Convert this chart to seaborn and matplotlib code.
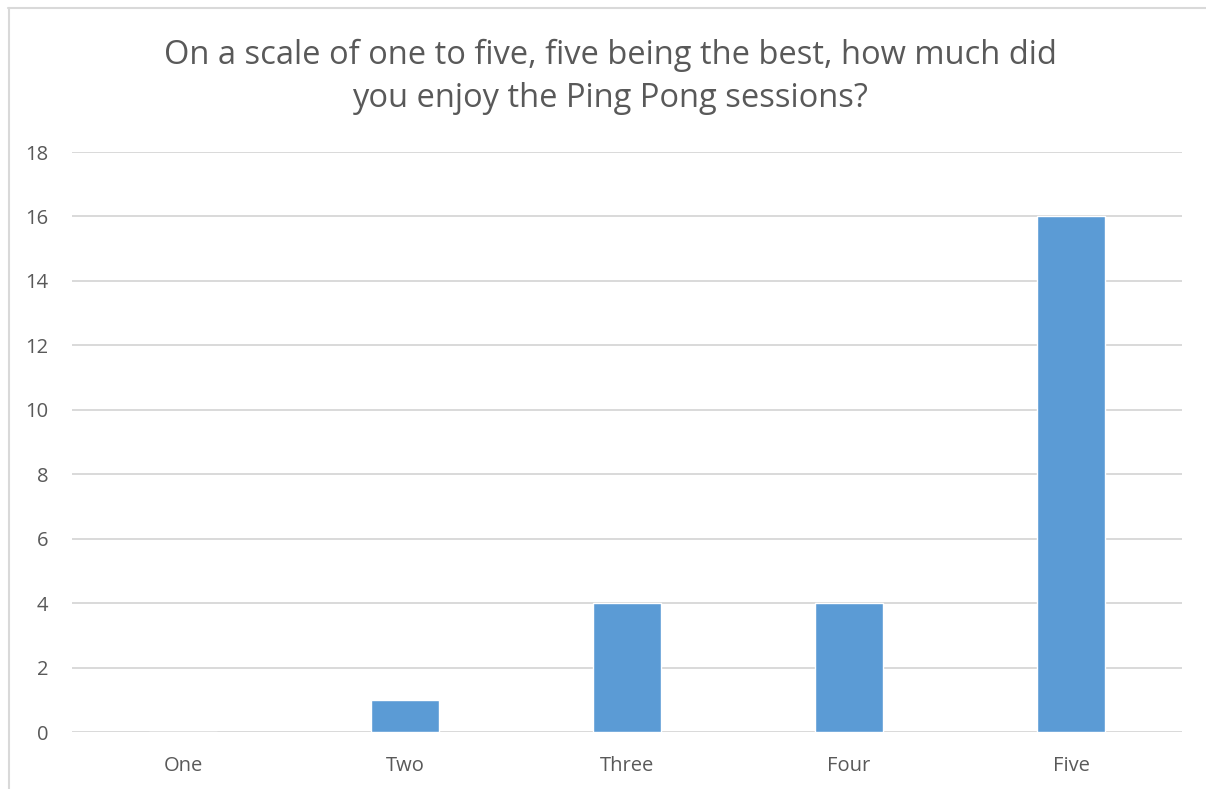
import matplotlib
matplotlib.use("Agg")
import matplotlib.pyplot as plt
import seaborn as sns
import pandas as pd
from matplotlib.lines import Line2D

categories = ["One", "Two", "Three", "Four", "Five"]
counts = [0, 1, 4, 4, 16]
yticks = [0, 2, 4, 6, 8, 10, 12, 14, 16, 18]
title = "On a scale of one to five, five being the best, how much did\nyou enjoy the Ping Pong sessions?"

sns.set_theme(style="white")
plt.rcParams['font.family'] = ['Open Sans', 'DejaVu Sans']

W, H = 1206, 789
fig = plt.figure(figsize=(W / 100, H / 100), dpi=100)
ax = fig.add_axes([72 / W, 1 - 732 / H, (1182 - 72) / W, (732 - 152) / H])

df = pd.DataFrame({"cat": categories, "n": counts})
sns.barplot(data=df, x="cat", y="n", color="#5b9bd5", saturation=1, width=0.31,
            ax=ax, zorder=3)

ax.set_ylim(0, 18)
ax.set_yticks(yticks)
ax.set_xlim(-0.5, len(categories) - 0.5)
ax.yaxis.grid(True, color="#d9d9d9", linewidth=1.4, zorder=0)
ax.set_axisbelow(True)
for s in ax.spines.values():
    s.set_visible(False)
ax.set_xlabel("")
ax.set_ylabel("")
ax.tick_params(axis="y", length=0, pad=17, labelsize=14.5, labelcolor="#595959")
ax.tick_params(axis="x", length=0, pad=17, labelsize=14.5, labelcolor="#595959")

fig.text(610 / W, 1 - 77 / H, title, ha="center", va="center",
         fontsize=23.5, color="#595959", linespacing=1.4)

# chart border (top and left visible)
fig.add_artist(Line2D([8 / W, 1.0], [1 - 7.5 / H, 1 - 7.5 / H], transform=fig.transFigure,
                      color="#d9d9d9", linewidth=1.5))
fig.add_artist(Line2D([8.5 / W, 8.5 / W], [0.0, 1 - 7.5 / H], transform=fig.transFigure,
                      color="#d9d9d9", linewidth=1.5))

fig.savefig("out.png", dpi=100, facecolor="white")
